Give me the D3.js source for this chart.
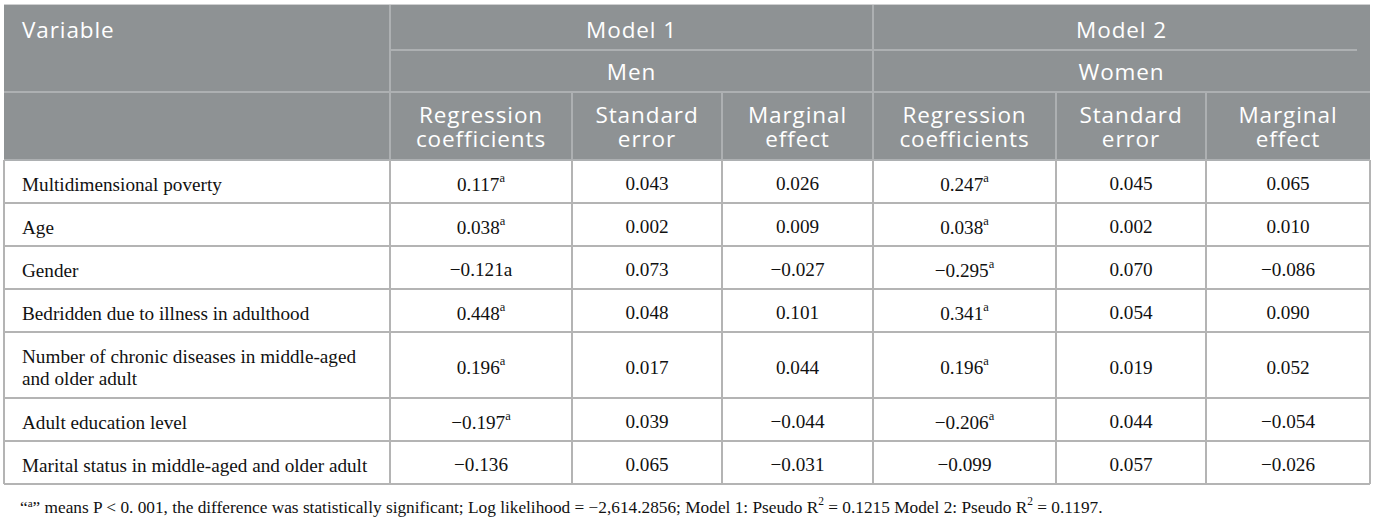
<!DOCTYPE html>
<html>
<head>
<meta charset="utf-8">
<script src="https://cdn.jsdelivr.net/npm/d3@7"></script>
<style>
  html, body { margin:0; padding:0; background:#fff; }
  svg { display:block; }
</style>
</head>
<body>
<svg id="tbl" width="1375" height="522" viewBox="0 0 1375 522"></svg>
<script>
/* Regression table: multidimensional poverty, men vs women */
const variables = [
  ['Multidimensional poverty'],
  ['Age'],
  ['Gender'],
  ['Bedridden due to illness in adulthood'],
  ['Number of chronic diseases in middle-aged', 'and older adult'],
  ['Adult education level'],
  ['Marital status in middle-aged and older adult']
];
const models = ['Model 1', 'Model 2'];
const groups = ['Men', 'Women'];
const statLabels = [['Regression', 'coefficients'], ['Standard', 'error'], ['Marginal', 'effect']];

const m1Coef = [0.117, 0.038, -0.121, 0.448, 0.196, -0.197, -0.136];
const m1Mark = ['sup', 'sup', 'plain', 'sup', 'sup', 'sup', ''];
const m1SE   = [0.043, 0.002, 0.073, 0.048, 0.017, 0.039, 0.065];
const m1ME   = [0.026, 0.009, -0.027, 0.101, 0.044, -0.044, -0.031];

const m2Coef = [0.247, 0.038, -0.295, 0.341, 0.196, -0.206, -0.099];
const m2Mark = ['sup', 'sup', 'sup', 'sup', 'sup', 'sup', ''];
const m2SE   = [0.045, 0.002, 0.070, 0.054, 0.019, 0.044, 0.057];
const m2ME   = [0.065, 0.010, -0.086, 0.090, 0.052, -0.054, -0.026];

const logLik = -2614.2856;
const pseudoR2 = [0.1215, 0.1197];

(function(){
  const svg = d3.select('#tbl');
  const fmt = d3.format('.3f');

  // layout
  const left = 4;
  const colKeys = ['var', 'c1', 's1', 'e1', 'c2', 's2', 'e2'];
  const colW = [386, 182, 150, 151, 183, 150, 164];
  const colEdge = [left].concat(Array.from(d3.cumsum(colW), d => left + d));
  const x = d3.scaleOrdinal().domain(colKeys).range(colEdge.slice(0, -1));
  const w = d3.scaleOrdinal().domain(colKeys).range(colW);
  const right = colEdge[colEdge.length - 1];

  const headTop = 5;
  const headH = [45, 42, 68];
  const headEdge = [headTop].concat(Array.from(d3.cumsum(headH), d => headTop + d));
  const bodyTop = headEdge[3];
  const rowH = variables.map(v => v.length > 1 ? 66 : 43);
  const rowEdge = [bodyTop].concat(Array.from(d3.cumsum(rowH), d => bodyTop + d));
  const y = d3.scaleOrdinal().domain(d3.range(variables.length)).range(rowEdge.slice(0, -1));
  const bodyBottom = rowEdge[rowEdge.length - 1];

  const headBg = '#8e9294', headLine = '#adb0b2', gridCol = '#b4b4b4';
  const sans = '"Open Sans", "Noto Sans", sans-serif';
  const serif = '"Liberation Serif", "DejaVu Serif", serif';

  // header background
  svg.append('rect').attr('x', left).attr('y', headTop - 1).attr('width', right - left).attr('height', 1)
    .attr('fill', '#cfd0d1');
  svg.append('rect').attr('x', left).attr('y', headTop).attr('width', right - left).attr('height', bodyBottom - headTop)
    .attr('fill', '#fff');
  svg.append('rect').attr('x', left).attr('y', headTop).attr('width', right - left).attr('height', bodyTop - headTop)
    .attr('fill', headBg);

  const hl = svg.append('g').attr('stroke', headLine).attr('stroke-width', 1.2).attr('shape-rendering', 'crispEdges');
  // vertical lines in header
  hl.append('line').attr('x1', x('c1')).attr('x2', x('c1')).attr('y1', headTop).attr('y2', bodyTop);
  hl.append('line').attr('x1', x('c2')).attr('x2', x('c2')).attr('y1', headTop).attr('y2', bodyTop);
  ['s1', 'e1', 's2', 'e2'].forEach(k => {
    hl.append('line').attr('x1', x(k)).attr('x2', x(k)).attr('y1', headEdge[2]).attr('y2', bodyTop);
  });
  // horizontal lines in header
  hl.append('line').attr('x1', x('c1')).attr('x2', x('c2')).attr('y1', headEdge[1]).attr('y2', headEdge[1]);
  hl.append('line').attr('x1', x('c2') + 1).attr('x2', right - 13).attr('y1', headEdge[1]).attr('y2', headEdge[1]);
  hl.append('line').attr('x1', left).attr('x2', right).attr('y1', headEdge[2]).attr('y2', headEdge[2]);
  hl.append('line').attr('x1', left).attr('x2', right).attr('y1', bodyTop).attr('y2', bodyTop);

  // header text
  const ht = svg.append('g').attr('fill', '#fff').attr('font-family', sans).attr('font-size', '22.5px')
    .attr('letter-spacing', '0.9px').attr('dominant-baseline', 'central');
  ht.append('text').attr('x', left + 18).attr('y', (headEdge[0] + headEdge[1]) / 2 + 1.5).text('Variable');
  models.forEach((m, i) => {
    const a = x(i ? 'c2' : 'c1'), b = i ? right : x('c2');
    ht.append('text').attr('x', (a + b) / 2).attr('y', (headEdge[0] + headEdge[1]) / 2 + 1.5)
      .attr('text-anchor', 'middle').text(m);
    ht.append('text').attr('x', (a + b) / 2).attr('y', (headEdge[1] + headEdge[2]) / 2)
      .attr('text-anchor', 'middle').text(groups[i]);
  });
  const statCols = [['c1', 's1', 'e1'], ['c2', 's2', 'e2']];
  statCols.forEach(cols => cols.forEach((k, j) => {
    const cx = x(k) + w(k) / 2, cy = (headEdge[2] + headEdge[3]) / 2;
    const t = ht.append('text').attr('text-anchor', 'middle').attr('y', cy - 12);
    statLabels[j].forEach((ln, li) => {
      t.append('tspan').attr('x', cx).attr('dy', li ? 24 : 0).text(ln);
    });
  }));

  // body grid
  const gl = svg.append('g').attr('stroke', gridCol).attr('stroke-width', 1.2).attr('shape-rendering', 'crispEdges');
  rowEdge.slice(1).forEach(ry => {
    gl.append('line').attr('x1', left).attr('x2', right).attr('y1', ry).attr('y2', ry);
  });
  colEdge.forEach(cx => {
    gl.append('line').attr('x1', cx).attr('x2', cx).attr('y1', bodyTop).attr('y2', bodyBottom);
  });

  // body text (nudged down so the x-height sits mid-cell like the reference)
  const nudge = 2;
  const bt = svg.append('g').attr('fill', '#111').attr('font-family', serif).attr('font-size', '19.2px')
    .attr('dominant-baseline', 'central');
  variables.forEach((lines, i) => {
    const cy = y(i) + rowH[i] / 2 + nudge;
    const t = bt.append('text').attr('y', cy - (lines.length - 1) * 11);
    lines.forEach((ln, li) => {
      t.append('tspan').attr('x', left + 18).attr('dy', li ? 22 : 0).text(ln);
    });
  });

  function cell(k, i, val, mark){
    const t = bt.append('text').attr('x', x(k) + w(k) / 2).attr('y', y(i) + rowH[i] / 2 + nudge)
      .attr('text-anchor', 'middle');
    if(mark === 'sup'){
      t.append('tspan').text(fmt(val));
      t.append('tspan').attr('font-size', '12.5px').attr('dy', -6).text('a');
    } else if(mark === 'plain'){
      t.text(fmt(val) + 'a');
    } else {
      t.text(fmt(val));
    }
  }
  d3.range(variables.length).forEach(i => {
    cell('c1', i, m1Coef[i], m1Mark[i]);
    cell('s1', i, m1SE[i]);
    cell('e1', i, m1ME[i]);
    cell('c2', i, m2Coef[i], m2Mark[i]);
    cell('s2', i, m2SE[i]);
    cell('e2', i, m2ME[i]);
  });

  // footnote
  const fmtLL = d3.format(',.4f');
  const fn = svg.append('text').attr('x', left + 16).attr('y', bodyBottom + 23)
    .attr('font-family', serif).attr('font-size', '17.3px').attr('fill', '#111')
    .attr('dominant-baseline', 'central').attr('xml:space', 'preserve');
  fn.append('tspan').text('\u201c');
  fn.append('tspan').attr('font-size', '11px').attr('dy', -4).text('a');
  fn.append('tspan').attr('dy', 4).text('\u201d means P < 0. 001, the difference was statistically significant; Log likelihood = ' +
    fmtLL(logLik) + '; Model 1: Pseudo R');
  fn.append('tspan').attr('font-size', '11.5px').attr('dy', -6).text('2');
  fn.append('tspan').attr('dy', 6).text(' = ' + pseudoR2[0] + ' Model 2: Pseudo R');
  fn.append('tspan').attr('font-size', '11.5px').attr('dy', -6).text('2');
  fn.append('tspan').attr('dy', 6).text(' = ' + pseudoR2[1] + '.');
})();
</script>
</body>
</html>
